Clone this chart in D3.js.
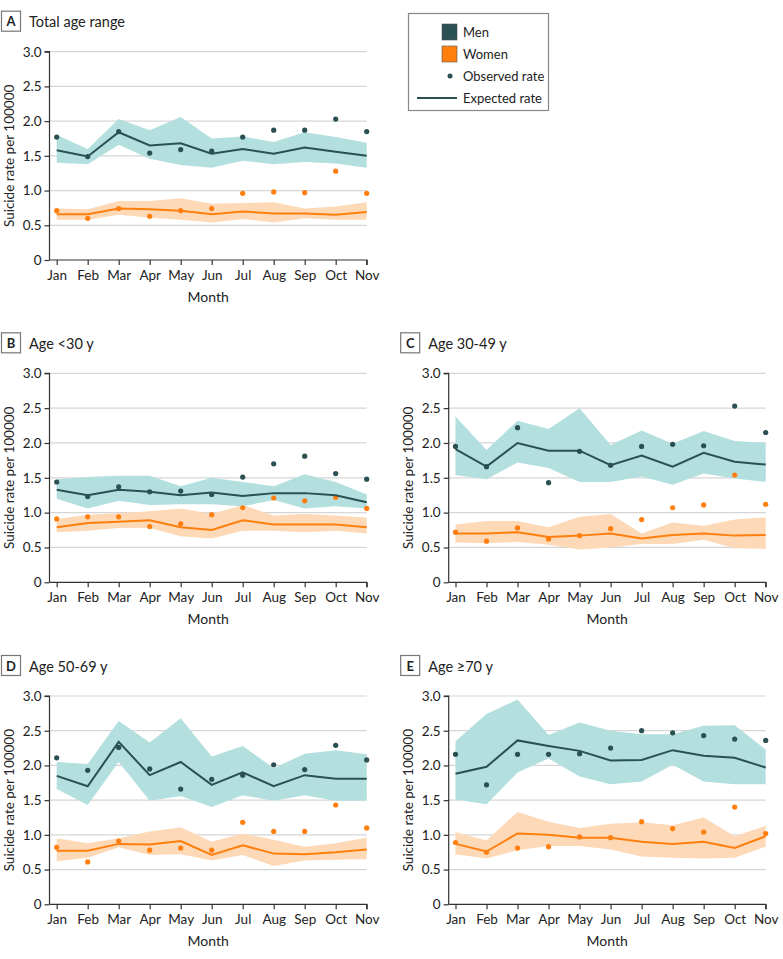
<!DOCTYPE html>
<html><head><meta charset="utf-8">
<script src="https://cdn.jsdelivr.net/npm/d3@7"></script>
<style>
body{margin:0;background:#fff;}
text{font-family:Lato,"Noto Sans",sans-serif;fill:#222;}
</style></head>
<body><svg id="c" width="783" height="959"></svg>
<script>
const months = ["Jan","Feb","Mar","Apr","May","Jun","Jul","Aug","Sep","Oct","Nov"];
const yTicks = [0,0.5,1.0,1.5,2.0,2.5,3.0];

// Panel A: Total age range
const aMenExp = [1.58,1.49,1.84,1.65,1.68,1.53,1.60,1.53,1.62,1.56,1.50];
const aMenHi  = [1.80,1.60,2.03,1.87,2.06,1.75,1.78,1.70,1.84,1.77,1.69];
const aMenLo  = [1.40,1.38,1.66,1.46,1.37,1.33,1.43,1.38,1.41,1.39,1.33];
const aMenObs = [1.77,1.49,1.85,1.54,1.59,1.57,1.77,1.87,1.87,2.03,1.85];
const aWomExp = [0.66,0.66,0.74,0.73,0.71,0.66,0.70,0.67,0.67,0.65,0.69];
const aWomHi  = [0.74,0.73,0.85,0.85,0.89,0.81,0.82,0.83,0.74,0.77,0.83];
const aWomLo  = [0.58,0.58,0.65,0.61,0.58,0.54,0.59,0.54,0.60,0.58,0.58];
const aWomObs = [0.71,0.60,0.74,0.63,0.71,0.74,0.96,0.98,0.97,1.28,0.96];

// Panel B: Age <30 y
const bMenExp = [1.33,1.25,1.33,1.30,1.25,1.29,1.24,1.28,1.28,1.25,1.15];
const bMenHi  = [1.48,1.51,1.53,1.53,1.38,1.50,1.44,1.38,1.55,1.44,1.26];
const bMenLo  = [1.20,1.06,1.17,1.11,1.12,1.12,1.09,1.18,1.06,1.09,1.06];
const bMenObs = [1.44,1.23,1.37,1.30,1.31,1.26,1.51,1.70,1.81,1.56,1.48];
const bWomExp = [0.79,0.85,0.87,0.89,0.79,0.75,0.89,0.83,0.83,0.83,0.79];
const bWomHi  = [0.91,0.97,0.99,1.02,1.06,0.98,1.11,0.96,0.98,0.96,0.93];
const bWomLo  = [0.72,0.74,0.78,0.78,0.66,0.63,0.74,0.74,0.72,0.74,0.70];
const bWomObs = [0.91,0.94,0.94,0.80,0.84,0.97,1.07,1.21,1.17,1.22,1.06];

// Panel C: Age 30-49 y
const cMenExp = [1.91,1.66,2.00,1.89,1.89,1.68,1.82,1.66,1.86,1.73,1.69];
const cMenHi  = [2.38,1.90,2.32,2.20,2.50,1.97,2.18,1.99,2.17,2.03,2.00];
const cMenLo  = [1.54,1.48,1.72,1.64,1.44,1.44,1.52,1.40,1.56,1.49,1.44];
const cMenObs = [1.95,1.66,2.22,1.43,1.88,1.68,1.95,1.98,1.96,2.53,2.15];
const cWomExp = [0.70,0.70,0.72,0.65,0.67,0.70,0.63,0.68,0.70,0.67,0.68];
const cWomHi  = [0.83,0.88,0.88,0.79,0.94,0.98,0.70,0.86,0.81,0.90,0.93];
const cWomLo  = [0.57,0.56,0.58,0.54,0.47,0.50,0.55,0.55,0.61,0.49,0.48];
const cWomObs = [0.72,0.59,0.78,0.62,0.67,0.77,0.90,1.07,1.11,1.54,1.12];

// Panel D: Age 50-69 y
const dMenExp = [1.85,1.70,2.34,1.86,2.05,1.72,1.90,1.70,1.86,1.81,1.81];
const dMenHi  = [2.05,2.02,2.64,2.33,2.68,2.13,2.28,1.96,2.17,2.22,2.16];
const dMenLo  = [1.66,1.43,2.05,1.49,1.56,1.40,1.57,1.49,1.57,1.49,1.49];
const dMenObs = [2.11,1.93,2.26,1.95,1.66,1.80,1.86,2.01,1.94,2.29,2.08];
const dWomExp = [0.77,0.77,0.87,0.86,0.91,0.71,0.85,0.73,0.72,0.75,0.79];
const dWomHi  = [0.95,0.88,0.95,1.05,1.11,0.90,1.02,0.93,0.83,0.88,0.96];
const dWomLo  = [0.62,0.67,0.82,0.71,0.72,0.63,0.71,0.55,0.63,0.64,0.65];
const dWomObs = [0.82,0.61,0.91,0.78,0.81,0.78,1.18,1.05,1.05,1.43,1.10];

// Panel E: Age >=70 y
const eMenExp = [1.88,1.98,2.36,2.28,2.21,2.07,2.08,2.22,2.14,2.11,1.97];
const eMenHi  = [2.35,2.74,2.95,2.44,2.62,2.50,2.45,2.45,2.57,2.58,2.23];
const eMenLo  = [1.51,1.44,1.90,2.10,1.84,1.73,1.77,2.01,1.77,1.73,1.73];
const eMenObs = [2.16,1.72,2.16,2.16,2.17,2.25,2.50,2.47,2.43,2.38,2.36];
const eWomExp = [0.87,0.76,1.02,1.00,0.96,0.96,0.90,0.87,0.90,0.81,0.98];
const eWomHi  = [1.04,0.92,1.33,1.19,1.10,1.16,1.18,1.14,1.25,0.98,1.13];
const eWomLo  = [0.72,0.66,0.78,0.84,0.84,0.79,0.69,0.67,0.66,0.67,0.83];
const eWomObs = [0.89,0.75,0.81,0.83,0.97,0.96,1.19,1.09,1.04,1.40,1.02];

const menColor = "#2b5052", menBand = "#b3dfdf";
const womColor = "#ff7f0e", womBand = "#fdd9b8";

const svg = d3.select("#c");

const panels = [
  {letter:"A", title:"Total age range", ax:49.5, x0:56.7, x1:366.7, yTop:51.7, yBot:260, men:[aMenExp,aMenHi,aMenLo,aMenObs], wom:[aWomExp,aWomHi,aWomLo,aWomObs]},
  {letter:"B", title:"Age <30 y", ax:49.5, x0:56.7, x1:366.7, yTop:373.3, yBot:582.3, men:[bMenExp,bMenHi,bMenLo,bMenObs], wom:[bWomExp,bWomHi,bWomLo,bWomObs]},
  {letter:"C", title:"Age 30-49 y", ax:448.7, x0:455.5, x1:765.7, yTop:373.3, yBot:582.3, men:[cMenExp,cMenHi,cMenLo,cMenObs], wom:[cWomExp,cWomHi,cWomLo,cWomObs]},
  {letter:"D", title:"Age 50-69 y", ax:49.5, x0:56.7, x1:366.7, yTop:696, yBot:904.3, men:[dMenExp,dMenHi,dMenLo,dMenObs], wom:[dWomExp,dWomHi,dWomLo,dWomObs]},
  {letter:"E", title:"Age \u226570 y", ax:448.7, x0:455.5, x1:765.7, yTop:696, yBot:904.3, men:[eMenExp,eMenHi,eMenLo,eMenObs], wom:[eWomExp,eWomHi,eWomLo,eWomObs]}
];

panels.forEach(p => {
  const g = svg.append("g");
  const x = d3.scalePoint().domain(months).range([p.x0, p.x1]);
  const y = d3.scaleLinear().domain([0,3]).range([p.yBot, p.yTop]);

  // grid
  g.selectAll(".grid").data(yTicks.filter(d=>d>0)).join("line")
    .attr("x1", p.ax).attr("x2", p.x1)
    .attr("y1", d=>y(d)).attr("y2", d=>y(d))
    .attr("stroke", "#d6d6d6").attr("stroke-width", 1.2);

  const series = [[p.wom, womColor, womBand],[p.men, menColor, menBand]];
  series.forEach(([s, col, band]) => {
    const [exp, hi, lo, obs] = s;
    const area = d3.area().x((d,i)=>x(months[i])).y0((d,i)=>y(lo[i])).y1(d=>y(d));
    g.append("path").datum(hi).attr("d", area).attr("fill", band);
  });
  series.forEach(([s, col, band]) => {
    const [exp, hi, lo, obs] = s;
    const line = d3.line().x((d,i)=>x(months[i])).y(d=>y(d));
    g.append("path").datum(exp).attr("d", line).attr("fill","none").attr("stroke", col).attr("stroke-width", 2);
    g.selectAll(null).data(obs).join("circle")
      .attr("cx", (d,i)=>x(months[i])).attr("cy", d=>y(d)).attr("r", 2.6).attr("fill", col);
  });

  // axes
  const yAxis = d3.axisLeft(y).tickValues(yTicks).tickSize(5).tickPadding(3)
    .tickFormat(d => d===0 ? "0" : d3.format(".1f")(d));
  const ga = g.append("g").attr("transform", `translate(${p.ax},0)`).call(yAxis);
  ga.select(".domain").attr("d", `M-5,${p.yTop}H0V${p.yBot}`);
  const xAxis = d3.axisBottom(x).tickSize(5).tickPadding(5);
  const gx = g.append("g").attr("transform", `translate(0,${p.yBot})`).call(xAxis);
  gx.select(".domain").attr("d", `M${p.ax},0H${p.x1}V5`);
  [ga, gx].forEach(a => {
    a.selectAll("path,line").attr("stroke", "#333").attr("stroke-width", 1.2);
    a.selectAll("text").attr("font-size", 13.5).attr("fill", "#222").style("font-family","Lato,'Noto Sans',sans-serif");
  });

  // y label
  g.append("text").attr("transform", `translate(${p.ax-36},${(p.yTop+p.yBot)/2}) rotate(-90)`)
    .attr("text-anchor","middle").attr("font-size", 13.5).text("Suicide rate per 100000");
  // x label
  g.append("text").attr("x", (p.ax+p.x1)/2 + 0).attr("y", p.yBot+42)
    .attr("text-anchor","middle").attr("font-size", 14).text("Month");

  // title box
  const bx = p.ax - 48.5, by = p.yTop - 40.5;
  g.append("rect").attr("x", bx+0.5).attr("y", by).attr("width", 19).attr("height", 20)
    .attr("fill","#fff").attr("stroke","#777").attr("stroke-width",1.2);
  g.append("text").attr("x", bx+10).attr("y", by+15).attr("text-anchor","middle")
    .attr("font-size", 13).attr("font-weight","bold").text(p.letter);
  g.append("text").attr("x", bx+28).attr("y", by+16).attr("font-size", 14.5).text(p.title);
});

// legend
const lg = svg.append("g");
lg.append("rect").attr("x", 408.5).attr("y", 13.5).attr("width", 140).attr("height", 97)
  .attr("fill","#fff").attr("stroke","#888").attr("stroke-width",1.2);
const legItems = [
  {type:"sq", color:menColor, label:"Men"},
  {type:"sq", color:womColor, label:"Women"},
  {type:"dot", color:menColor, label:"Observed rate"},
  {type:"line", color:menColor, label:"Expected rate"}
];
legItems.forEach((d,i) => {
  const cy = 32 + i*22;
  if (d.type==="sq") lg.append("rect").attr("x", 442).attr("y", cy-8).attr("width", 15).attr("height", 16).attr("fill", d.color).attr("stroke","#555").attr("stroke-width",0.6);
  else if (d.type==="dot") lg.append("circle").attr("cx", 450).attr("cy", cy).attr("r", 2.5).attr("fill", d.color);
  else lg.append("line").attr("x1", 417).attr("x2", 457).attr("y1", cy).attr("y2", cy).attr("stroke", d.color).attr("stroke-width", 2);
  lg.append("text").attr("x", 463).attr("y", cy+5).attr("font-size", 13).text(d.label);
});
</script></body></html>
